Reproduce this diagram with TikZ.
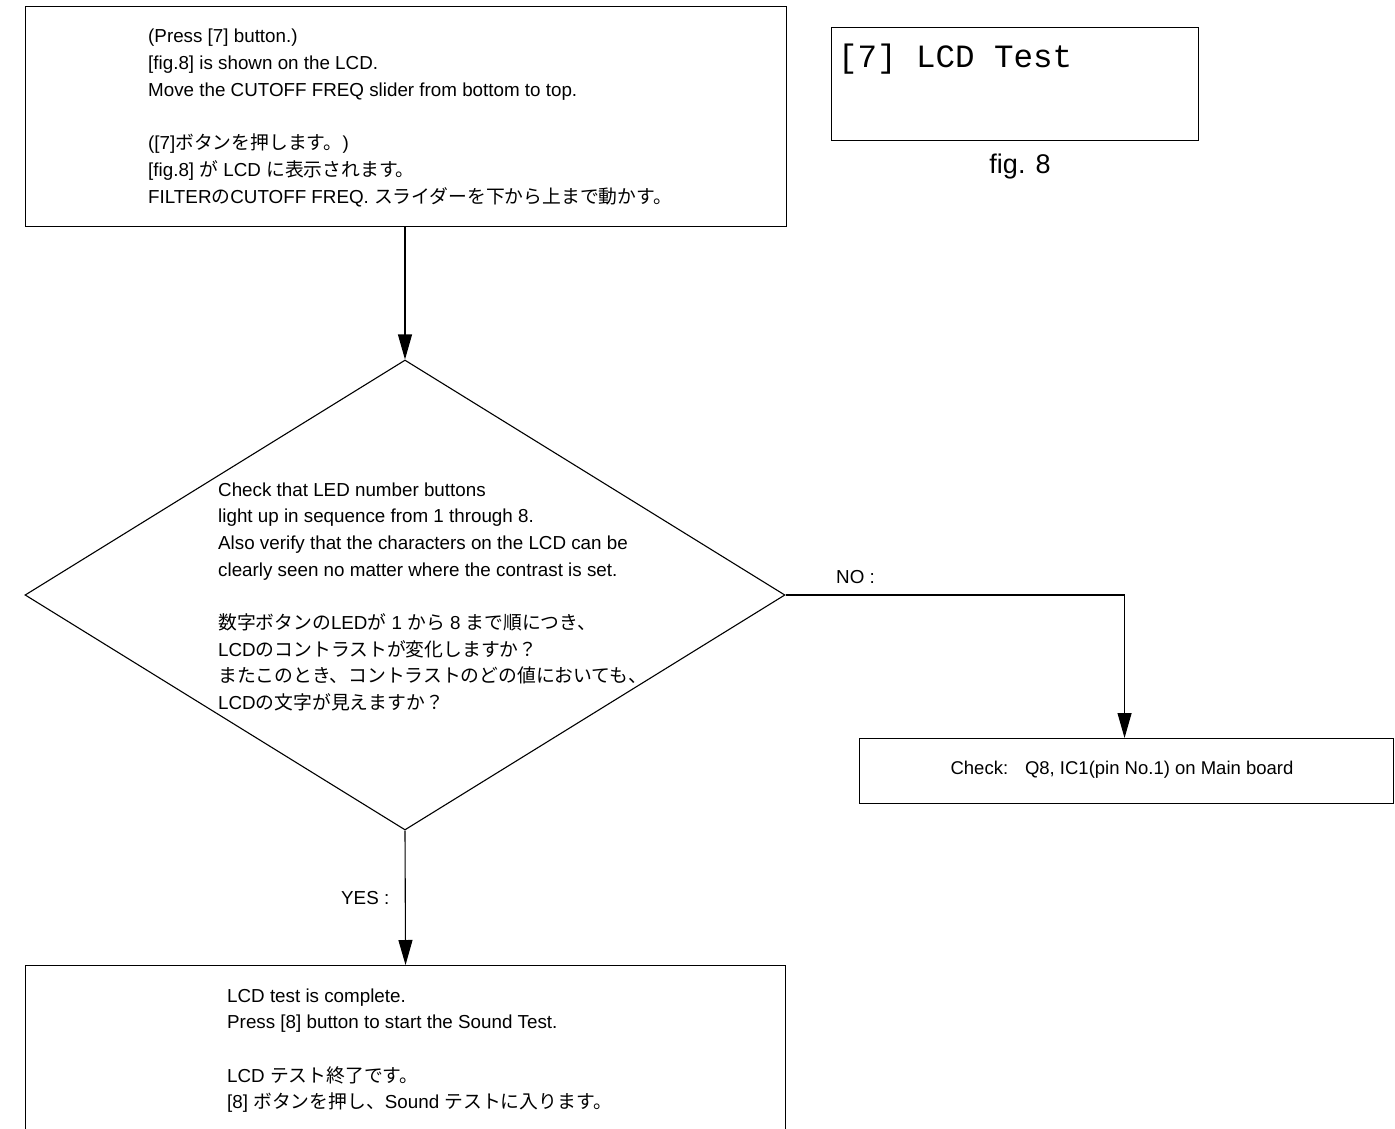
\documentclass[tikz,border=0pt]{standalone}
\usepackage{fontspec}
\setmainfont{Liberation Sans}
\newfontfamily\jpfont[Scale=1.0]{Noto Sans CJK JP}
\newfontfamily\lcdfont{Liberation Mono}
\newcommand{\jp}[1]{{\jpfont #1}}
\usetikzlibrary{arrows.meta,shapes.geometric}
\tikzset{
  boxline/.style={draw, line width=1.1pt, inner sep=0pt},
  txt/.style={anchor=base west, inner sep=0pt, font=\fontsize{18.8}{26.7}\selectfont},
  arr/.style={line width=1.1pt, -{Triangle[length=25pt,width=14pt]}},
}
\begin{document}
\begin{tikzpicture}[x=1pt,y=1pt]
\path[use as bounding box] (0,0) rectangle (1395,-1129);
\clip (0,0) rectangle (1395,-1129);
\fill[white] (0,0) rectangle (1395,-1129);

% top box
\node[boxline, anchor=north west, minimum width=761pt, minimum height=220pt] (box1) at (25,-6) {};
\node[txt] (t1) at (148,-43) {\parbox[t]{620pt}{%
(Press [7] button.)\\{}
[fig.8] is shown on the LCD.\\
Move the CUTOFF FREQ slider from bottom to top.\\[26.7pt]
(\mbox{}[7]\jp{ボタンを押します。})\\{}
[fig.8] \jp{が} LCD \jp{に表示されます。}\\
FILTER\jp{の}CUTOFF FREQ. \jp{スライダーを下から上まで動かす。}}};

% LCD figure
\node[boxline, anchor=north west, minimum width=367pt, minimum height=113pt] (lcd) at (831,-27) {};
\node[anchor=base west, inner sep=0pt, font=\lcdfont\fontsize{32.5}{34}\selectfont] (lcdt) at (838,-68) {[7] LCD Test};
\node[anchor=base, inner sep=0pt, font=\fontsize{27}{30}\selectfont] (fig) at (1020,-173) {fig. 8};

% diamond
\node[diamond, draw, line width=1.1pt, inner sep=0pt, minimum width=760pt, minimum height=470pt] (dia) at (405,-595) {};
\node[txt] (t2) at (218,-496) {\parbox[t]{560pt}{%
Check that LED number buttons\\
light up in sequence from 1 through 8.\\
Also verify that the characters on the LCD can be\\
clearly seen no matter where the contrast is set.\\[26.7pt]
\jp{数字ボタンの}LED\jp{が} 1 \jp{から} 8 \jp{まで順につき、}\\
LCD\jp{のコントラストが変化しますか？}\\
\jp{またこのとき、コントラストのどの値においても、}\\
LCD\jp{の文字が見えますか？}}};

% check box
\node[boxline, anchor=north west, minimum width=534pt, minimum height=65pt] (chk) at (859,-738) {};
\node[anchor=base, inner sep=0pt, font=\fontsize{18.5}{26.7}\selectfont] (t3) at (1122,-774) {Check:\hspace{10pt} Q8, IC1(pin No.1) on Main board};

% bottom box
\node[boxline, anchor=north west, minimum width=760pt, minimum height=200pt] (box3) at (25,-965) {};
\node[txt] (t4) at (227,-1002) {\parbox[t]{560pt}{%
LCD test is complete.\\
Press [8] button to start the Sound Test.\\[26.7pt]
LCD \jp{テスト終了です。}\\{}
[8] \jp{ボタンを押し、}Sound \jp{テストに入ります。}}};

% connectors
\draw[arr] (box1.south -| dia.north) -- (dia.north);
\draw[arr] (dia.east) -| ([xshift=-2pt]chk.north);
\draw[arr] (dia.south) -- (box3.north);
\node[txt] (no) at (836,-583) {NO :};
\node[txt] (yes) at (341,-904) {YES :};
\end{tikzpicture}
\end{document}
